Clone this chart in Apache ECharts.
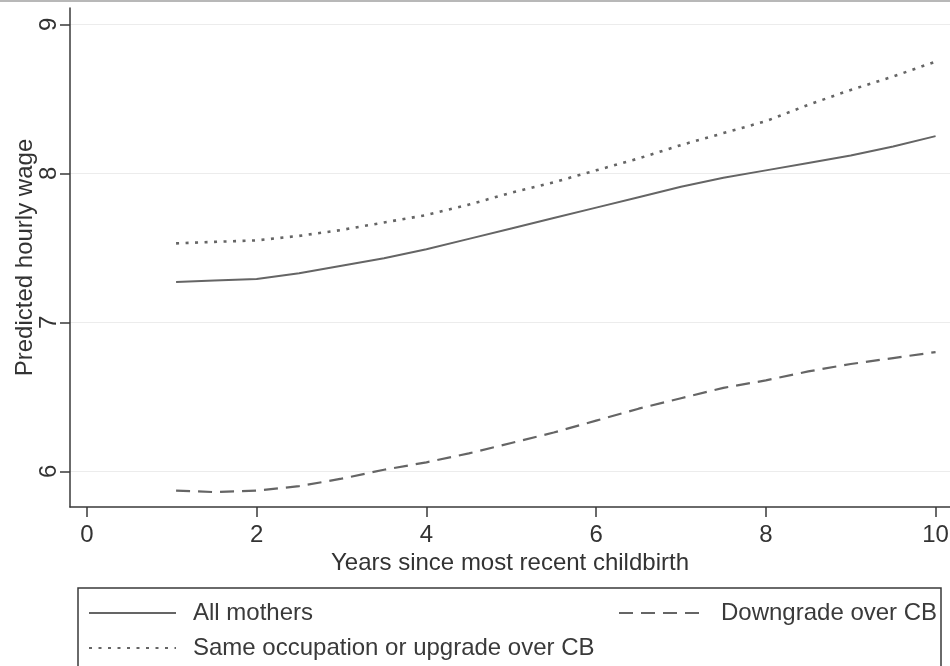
<!DOCTYPE html>
<html>
<head>
<meta charset="utf-8">
<script src="https://cdn.jsdelivr.net/npm/echarts@6/dist/echarts.min.js"></script>
<style>
  html, body { margin: 0; padding: 0; background: #ffffff; }
  #chart { width: 950px; height: 666px; }
</style>
</head>
<body>
<div id="chart"></div>
<script>
// Years since most recent childbirth (x values shared by all three curves)
const years = [1.05, 1.5, 2, 2.5, 3, 3.5, 4, 4.5, 5, 5.5, 6, 6.5, 7, 7.5, 8, 8.5, 9, 9.5, 10];

// Predicted hourly wage by group
const allMothers = [7.27, 7.28, 7.29, 7.33, 7.38, 7.43, 7.49, 7.56, 7.63, 7.70, 7.77, 7.84, 7.91, 7.97, 8.02, 8.07, 8.12, 8.18, 8.25];
const sameOrUpgrade = [7.53, 7.54, 7.55, 7.58, 7.62, 7.67, 7.72, 7.79, 7.87, 7.94, 8.02, 8.10, 8.19, 8.27, 8.35, 8.46, 8.56, 8.65, 8.75];
const downgrade = [5.87, 5.86, 5.87, 5.90, 5.95, 6.01, 6.06, 6.12, 6.19, 6.26, 6.34, 6.42, 6.49, 6.56, 6.61, 6.67, 6.72, 6.76, 6.80];

// Axis tick labels
const xTicks = [0, 2, 4, 6, 8, 10];
const yTicks = [6, 7, 8, 9];

const seriesNames = ['All mothers', 'Same occupation or upgrade over CB', 'Downgrade over CB'];

const FONT = '"Liberation Sans", Arial, sans-serif';
const INK = '#333333';
const CURVE = '#656565';

const pairs = (ys) => years.map((x, i) => [x, ys[i]]);

const legendBase = {
  orient: 'horizontal',
  padding: 0,
  itemHeight: 24,
  itemStyle: { opacity: 0 },
  textStyle: { fontFamily: FONT, fontSize: 24, color: '#3a3a3a' },
  selectedMode: false
};

const chart = echarts.init(document.getElementById('chart'), null, { renderer: 'canvas' });

chart.setOption({
  backgroundColor: '#ffffff',
  animation: false,
  grid: { left: 70, right: 0, top: 8, bottom: 159, containLabel: false, outerBoundsMode: 'none' },
  xAxis: {
    type: 'value',
    min: -0.2,
    max: 10.17,
    name: 'Years since most recent childbirth',
    nameLocation: 'middle',
    nameGap: 44,
    nameMoveOverlap: false,
    nameTextStyle: { fontFamily: FONT, fontSize: 24, color: INK },
    axisLine: { show: true, onZero: false, lineStyle: { color: '#3a3a3a', width: 1.5 } },
    axisTick: { show: true, length: 10, customValues: xTicks, lineStyle: { color: '#3a3a3a', width: 1.5 } },
    axisLabel: { customValues: xTicks, margin: 16, fontFamily: FONT, fontSize: 24, color: INK },
    splitLine: { show: false }
  },
  yAxis: {
    type: 'value',
    min: 5.76,
    max: 9.11,
    name: 'Predicted hourly wage',
    nameLocation: 'middle',
    nameGap: 33,
    nameMoveOverlap: false,
    nameRotate: 90,
    nameTextStyle: { fontFamily: FONT, fontSize: 24, color: INK },
    axisLine: { show: true, onZero: false, lineStyle: { color: '#3a3a3a', width: 1.5 } },
    axisTick: { show: true, length: 10, customValues: yTicks, lineStyle: { color: '#3a3a3a', width: 1.5 } },
    axisLabel: { customValues: yTicks, rotate: 90, margin: 9, fontFamily: FONT, fontSize: 24, color: INK },
    splitLine: { show: true, lineStyle: { color: '#ececec', width: 1 } }
  },
  legend: [
    Object.assign({}, legendBase, {
      data: [seriesNames[0]], left: 88, top: 601, itemWidth: 87,
      textStyle: Object.assign({}, legendBase.textStyle, { padding: [0, 0, 0, 12] })
    }),
    Object.assign({}, legendBase, {
      data: [seriesNames[1]], left: 88, top: 636, itemWidth: 87,
      textStyle: Object.assign({}, legendBase.textStyle, { padding: [0, 0, 0, 12] })
    }),
    Object.assign({}, legendBase, {
      data: [seriesNames[2]], left: 618, top: 601, itemWidth: 84,
      textStyle: Object.assign({}, legendBase.textStyle, { padding: [0, 0, 0, 13] })
    })
  ],
  series: [
    {
      name: seriesNames[0], type: 'line', data: pairs(allMothers),
      symbol: 'none', smooth: false,
      lineStyle: { color: CURVE, width: 2, type: 'solid' },
      itemStyle: { color: CURVE }
    },
    {
      name: seriesNames[1], type: 'line', data: pairs(sameOrUpgrade),
      symbol: 'none', smooth: false,
      lineStyle: { color: CURVE, width: 2.6, type: [3, 6.5] },
      itemStyle: { color: CURVE }
    },
    {
      name: seriesNames[2], type: 'line', data: pairs(downgrade),
      symbol: 'none', smooth: false,
      lineStyle: { color: CURVE, width: 2.2, type: [14, 8] },
      itemStyle: { color: CURVE }
    }
  ],
  graphic: [
    // legend frame
    {
      type: 'rect', silent: true,
      shape: { x: 78, y: 588, width: 863, height: 110 },
      style: { fill: 'none', stroke: '#3a3a3a', lineWidth: 1.5 }
    },
    // page edge at the top
    {
      type: 'rect', silent: true,
      shape: { x: 0, y: 0, width: 950, height: 2 },
      style: { fill: '#b8b8b8' }
    }
  ]
});
</script>
</body>
</html>
